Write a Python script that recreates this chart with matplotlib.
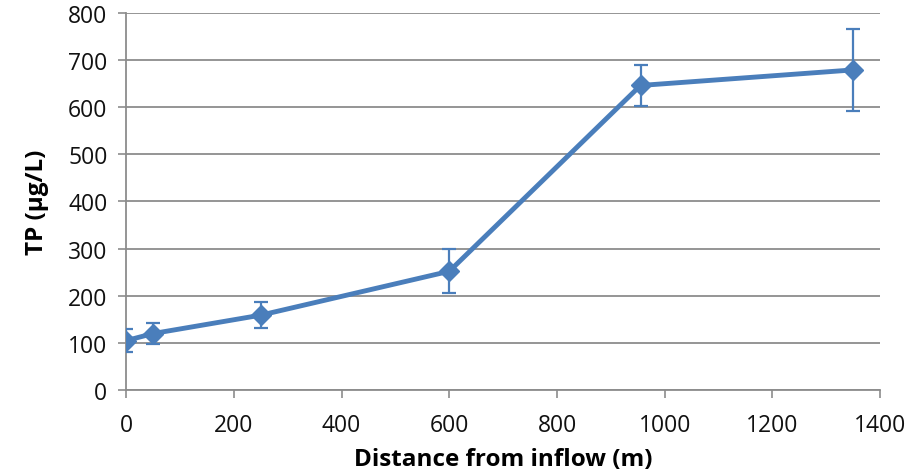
import matplotlib
matplotlib.use("Agg")
import matplotlib.pyplot as plt

# Total phosphorus along the transect
distance_m = [0, 50, 250, 600, 955, 1350]
tp_ugl = [105, 120, 159, 252, 646, 679]
tp_err = [25, 23, 28, 47, 43, 87]

x_ticks = [0, 200, 400, 600, 800, 1000, 1200, 1400]
y_ticks = [0, 100, 200, 300, 400, 500, 600, 700, 800]

BLUE = "#4A7EBB"
GRID = "#8C8C8C"

plt.rcParams["font.family"] = ["Open Sans", "DejaVu Sans"]

fig = plt.figure(figsize=(9.14, 4.77), dpi=100)
ax = fig.add_axes([0.138, 0.180, 0.825, 0.791])

ax.errorbar(distance_m, tp_ugl, yerr=tp_err, color=BLUE, lw=3.5,
            marker="D", markersize=10.5, ecolor=BLUE, elinewidth=1.6,
            capsize=5, capthick=1.6, zorder=3)

ax.set_xlim(0, 1400)
ax.set_ylim(0, 800)
ax.set_xticks(x_ticks)
ax.set_yticks(y_ticks)
ax.yaxis.grid(True, color=GRID, lw=1.3)
ax.set_axisbelow(True)

for side in ("top", "right"):
    ax.spines[side].set_visible(False)
for side in ("left", "bottom"):
    ax.spines[side].set_color(GRID)
    ax.spines[side].set_linewidth(1.3)

ax.tick_params(axis="both", colors=GRID, length=5.5, width=1.2,
               labelsize=16.5, labelcolor="#111111")
ax.tick_params(axis="y", pad=8)
ax.tick_params(axis="x", pad=11)

ax.set_xlabel("Distance from inflow (m)", fontsize=17.5, fontweight="bold", labelpad=7)
ax.set_ylabel("TP (µg/L)", fontsize=17.5, fontweight="bold", labelpad=14)

fig.savefig("out.png", dpi=100)
